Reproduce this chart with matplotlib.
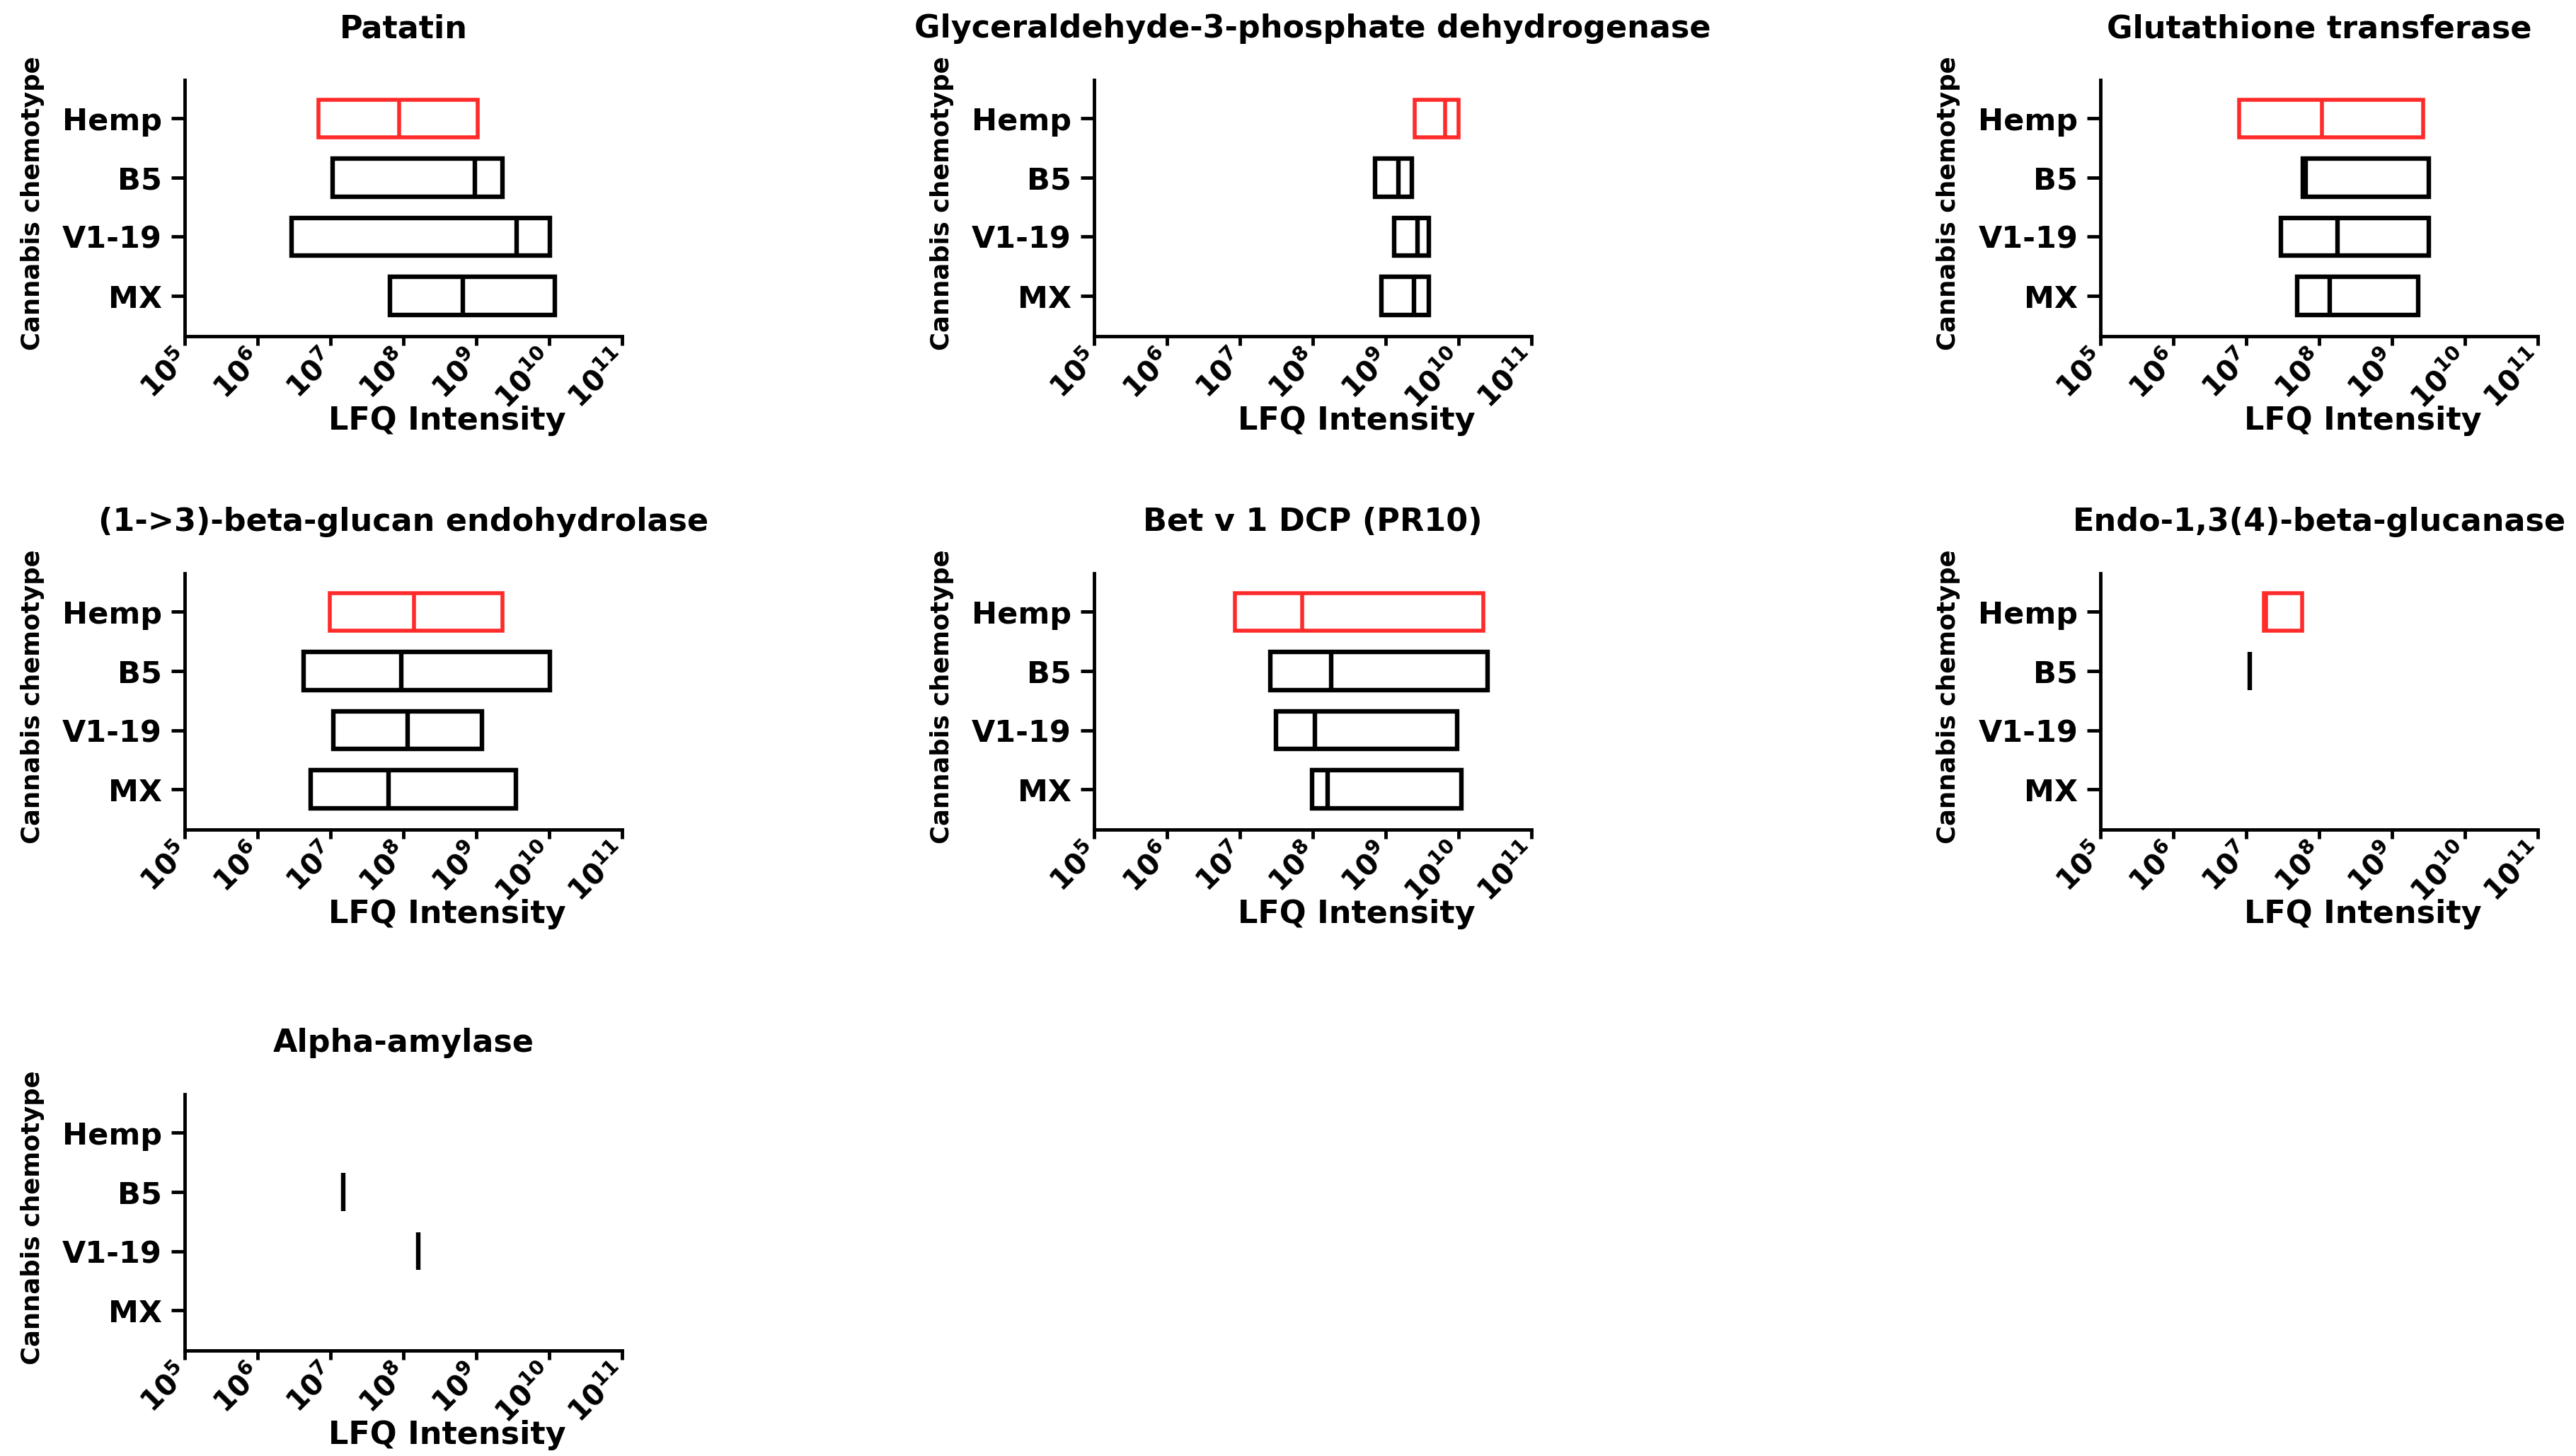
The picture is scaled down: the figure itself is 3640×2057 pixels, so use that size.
import numpy as np
import matplotlib
matplotlib.use('Agg')
import matplotlib.pyplot as plt
from matplotlib.ticker import NullLocator

plt.rcParams['font.family'] = ['DejaVu Sans']
plt.rcParams['font.weight'] = 'bold'
plt.rcParams['mathtext.fontset'] = 'dejavusans'

# categories (top to bottom)
chemotypes = ['Hemp', 'B5', 'V1-19', 'MX']
ypos = [3, 2, 1, 0]
colors = ['#ff2a2a', 'black', 'black', 'black']

titles = ['Patatin',
          'Glyceraldehyde-3-phosphate dehydrogenase',
          'Glutathione transferase',
          '(1->3)-beta-glucan endohydrolase',
          'Bet v 1 DCP (PR10)',
          'Endo-1,3(4)-beta-glucanase',
          'Alpha-amylase']

# LFQ intensity: min / median / max per chemotype (Hemp, B5, V1-19, MX)
patatin_min = [6.8e6, 1.07e7, 2.9e6, 6.5e7]
patatin_med = [8.7e7, 9.5e8, 3.6e9, 6.5e8]
patatin_max = [1.05e9, 2.3e9, 1.02e10, 1.2e10]

gapdh_min = [2.5e9, 7.1e8, 1.3e9, 8.7e8]
gapdh_med = [6.5e9, 1.5e9, 2.75e9, 2.45e9]
gapdh_max = [1.0e10, 2.3e9, 3.9e9, 3.9e9]

gst_min = [7.9e6, 6.0e7, 3.0e7, 5.0e7]
gst_med = [1.1e8, 6.5e7, 1.8e8, 1.4e8]
gst_max = [2.7e9, 3.2e9, 3.2e9, 2.3e9]

glucan_min = [9.8e6, 4.3e6, 1.1e7, 5.4e6]
glucan_med = [1.4e8, 9.3e7, 1.15e8, 6.3e7]
glucan_max = [2.3e9, 1.02e10, 1.2e9, 3.5e9]

betv1_min = [8.5e6, 2.6e7, 3.1e7, 9.8e7]
betv1_med = [7.2e7, 1.8e8, 1.07e8, 1.6e8]
betv1_max = [2.2e10, 2.5e10, 9.5e9, 1.1e10]

endo_min = [1.75e7, 1.12e7, np.nan, np.nan]
endo_med = [1.85e7, 1.12e7, np.nan, np.nan]
endo_max = [5.8e7, 1.12e7, np.nan, np.nan]

amylase_min = [np.nan, 1.5e7, 1.6e8, np.nan]
amylase_med = [np.nan, 1.5e7, 1.6e8, np.nan]
amylase_max = [np.nan, 1.5e7, 1.6e8, np.nan]

panel_data = [(patatin_min, patatin_med, patatin_max),
              (gapdh_min, gapdh_med, gapdh_max),
              (gst_min, gst_med, gst_max),
              (glucan_min, glucan_med, glucan_max),
              (betv1_min, betv1_med, betv1_max),
              (endo_min, endo_med, endo_max),
              (amylase_min, amylase_med, amylase_max)]

xticks = [1e5, 1e6, 1e7, 1e8, 1e9, 1e10, 1e11]
xticklabels = [r'$\mathbf{10^{%d}}$' % e for e in range(5, 12)]

fig = plt.figure(figsize=(36.41, 20.57), dpi=100)

col_left = [0.0717, 0.4246, 0.8152]
row_bottom = [0.7691, 0.4302, 0.0724]
w, h = 0.1697, 0.176
boxh = 0.64

for i in range(len(titles)):
    r, c = divmod(i, 3)
    ax = fig.add_axes([col_left[c], row_bottom[r], w, h])
    mins, meds, maxs = panel_data[i]
    for y, lo, md, hi, col in zip(ypos, mins, meds, maxs, colors):
        if np.isnan(lo):
            continue
        lw = 4.0 if col != 'black' else 4.6
        if hi > lo:
            ax.barh(y, hi - lo, left=lo, height=boxh, fill=False,
                    edgecolor=col, linewidth=lw)
        ax.vlines(md, y - boxh / 2, y + boxh / 2, color=col, linewidth=lw,
                  capstyle='butt')

    ax.set_xscale('log')
    ax.set_xlim(1e5, 1e11)
    ax.set_ylim(-0.68, 3.65)
    ax.set_xticks(xticks)
    ax.set_xticklabels(xticklabels, fontsize=29, rotation=45, ha='right',
                       va='center', rotation_mode='anchor')
    ax.xaxis.set_minor_locator(NullLocator())
    ax.set_yticks(ypos)
    ax.set_yticklabels(chemotypes, fontsize=31, fontweight='bold')

    for s in ['top', 'right']:
        ax.spines[s].set_visible(False)
    for s in ['left', 'bottom']:
        ax.spines[s].set_linewidth(3.5)
    ax.tick_params(axis='x', length=9, width=3.5, pad=11)
    ax.tick_params(axis='y', length=14, width=3.5, pad=9)

    ax.set_xlabel('LFQ Intensity', fontsize=32, fontweight='bold')
    ax.xaxis.set_label_coords(0.6, -0.27)
    ax.set_ylabel('Cannabis chemotype', fontsize=25.5, fontweight='bold')
    ax.yaxis.set_label_coords(-0.32, 0.52)
    ax.text(0.5, 1.20, titles[i], transform=ax.transAxes, ha='center',
            va='center', fontsize=32, fontweight='bold')

plt.savefig('out.png', dpi=100)
